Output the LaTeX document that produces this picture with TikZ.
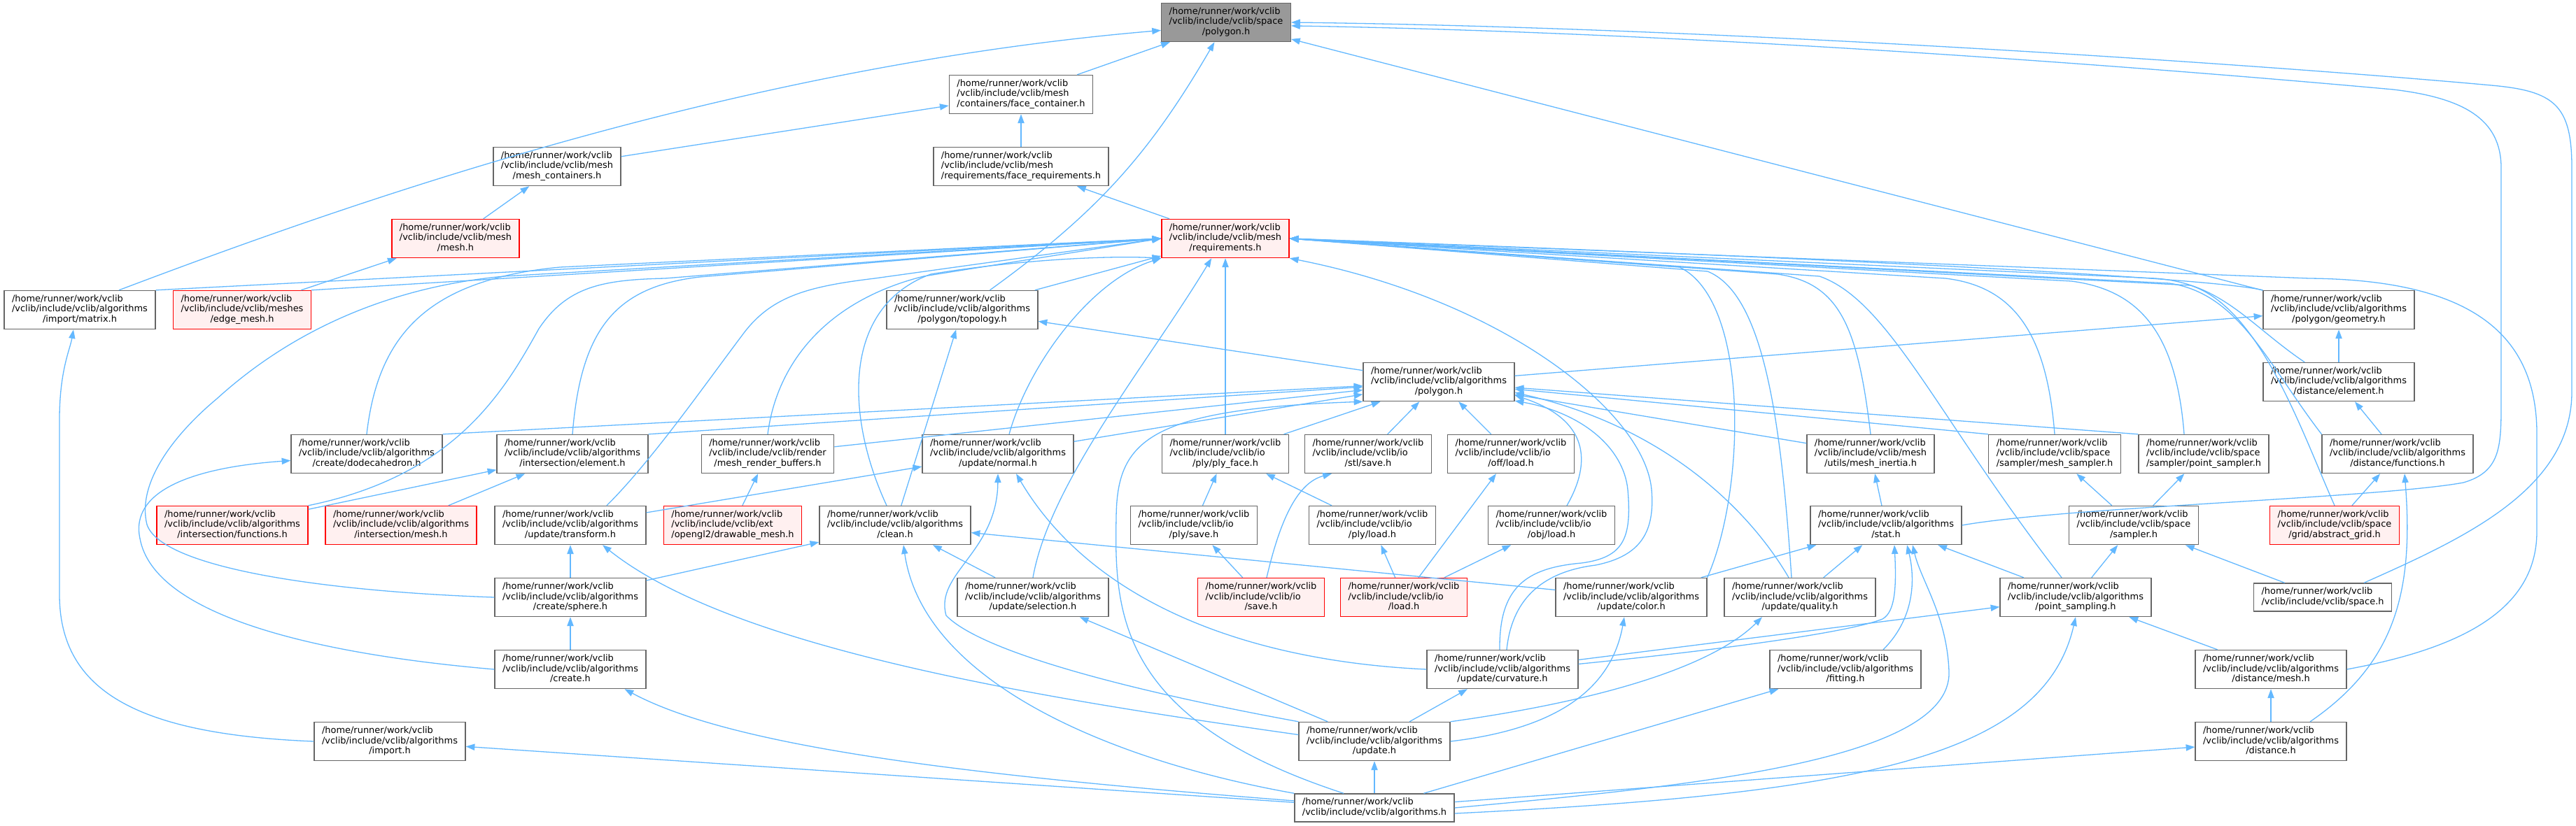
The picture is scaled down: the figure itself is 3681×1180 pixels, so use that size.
\documentclass[tikz,border=0pt]{standalone}
\usepackage{fontspec}
\setmainfont{DejaVu Sans}
\usetikzlibrary{arrows.meta}
\definecolor{depblue}{RGB}{99,184,255}
\definecolor{nodegray}{RGB}{102,102,102}
\definecolor{focusgray}{RGB}{153,153,153}
\definecolor{truncred}{RGB}{255,0,0}
\definecolor{truncfill}{RGB}{255,240,240}
\newcommand{\incpath}[2]{\begin{tabular}{@{}l@{}}/home/runner/work/vclib\\#1\\\multicolumn{1}{@{}c@{}}{#2}\end{tabular}}
\newcommand{\incpathtwo}[1]{\begin{tabular}{@{}l@{}}/home/runner/work/vclib\\#1\end{tabular}}

\begin{document}
\begin{tikzpicture}[x=0.5pt, y=0.5pt,
    file/.style={rectangle, draw=nodegray, fill=white, line width=0.65pt,
                 inner xsep=5.5pt, inner ysep=2.6pt, font=\fontsize{6.47}{7.45}\selectfont},
    focus/.style={file, fill=focusgray},
    trunc/.style={file, draw=truncred, fill=truncfill},
    dep/.style={-{Triangle[length=6.4pt, width=4.6pt]}, draw=depblue, line width=0.65pt}
]
\useasboundingbox (0,0) rectangle (3681,-1180);

\node[focus] (spoly) at (1752,-32) {\incpath{/vclib/include/vclib/space}{/polygon.h}};
\node[file] (facecont) at (1459,-135) {\incpath{/vclib/include/vclib/mesh}{/containers/face\_container.h}};
\node[file] (meshcont) at (796,-238) {\incpath{/vclib/include/vclib/mesh}{/mesh\_containers.h}};
\node[file] (facereq) at (1459,-238) {\incpath{/vclib/include/vclib/mesh}{/requirements/face\_requirements.h}};
\node[trunc] (mesh) at (651,-341) {\incpath{/vclib/include/vclib/mesh}{/mesh.h}};
\node[trunc] (req) at (1751,-341) {\incpath{/vclib/include/vclib/mesh}{/requirements.h}};
\node[file] (matrix) at (114,-443) {\incpath{/vclib/include/vclib/algorithms}{/import/matrix.h}};
\node[trunc] (edgemesh) at (346,-443) {\incpath{/vclib/include/vclib/meshes}{/edge\_mesh.h}};
\node[file] (topology) at (1375,-443) {\incpath{/vclib/include/vclib/algorithms}{/polygon/topology.h}};
\node[file] (geometry) at (3342,-443) {\incpath{/vclib/include/vclib/algorithms}{/polygon/geometry.h}};
\node[file] (apoly) at (2056,-546) {\incpath{/vclib/include/vclib/algorithms}{/polygon.h}};
\node[file] (delement) at (3342,-546) {\incpath{/vclib/include/vclib/algorithms}{/distance/element.h}};

\node[file] (dodeca) at (524,-649) {\incpath{/vclib/include/vclib/algorithms}{/create/dodecahedron.h}};
\node[file] (ielement) at (818,-649) {\incpath{/vclib/include/vclib/algorithms}{/intersection/element.h}};
\node[file] (mrbuf) at (1097,-649) {\incpath{/vclib/include/vclib/render}{/mesh\_render\_buffers.h}};
\node[file] (normal) at (1426,-649) {\incpath{/vclib/include/vclib/algorithms}{/update/normal.h}};
\node[file] (plyface) at (1751,-649) {\incpath{/vclib/include/vclib/io}{/ply/ply\_face.h}};
\node[file] (stlsave) at (1955,-649) {\incpath{/vclib/include/vclib/io}{/stl/save.h}};
\node[file] (offload) at (2159,-649) {\incpath{/vclib/include/vclib/io}{/off/load.h}};
\node[file] (inertia) at (2673,-649) {\incpath{/vclib/include/vclib/mesh}{/utils/mesh\_inertia.h}};
\node[file] (msampler) at (2936,-649) {\incpath{/vclib/include/vclib/space}{/sampler/mesh\_sampler.h}};
\node[file] (psampler) at (3149,-649) {\incpath{/vclib/include/vclib/space}{/sampler/point\_sampler.h}};
\node[file] (dfunc) at (3426,-649) {\incpath{/vclib/include/vclib/algorithms}{/distance/functions.h}};

\node[trunc] (ifunc) at (332,-751) {\incpath{/vclib/include/vclib/algorithms}{/intersection/functions.h}};
\node[trunc] (imesh) at (573,-751) {\incpath{/vclib/include/vclib/algorithms}{/intersection/mesh.h}};
\node[file] (transform) at (815,-751) {\incpath{/vclib/include/vclib/algorithms}{/update/transform.h}};
\node[trunc] (drawable) at (1047,-751) {\incpath{/vclib/include/vclib/ext}{/opengl2/drawable\_mesh.h}};
\node[file] (clean) at (1279,-751) {\incpath{/vclib/include/vclib/algorithms}{/clean.h}};
\node[file] (plysave) at (1706,-751) {\incpath{/vclib/include/vclib/io}{/ply/save.h}};
\node[file] (plyload) at (1961,-751) {\incpath{/vclib/include/vclib/io}{/ply/load.h}};
\node[file] (objload) at (2217,-751) {\incpath{/vclib/include/vclib/io}{/obj/load.h}};
\node[file] (stat) at (2695,-751) {\incpath{/vclib/include/vclib/algorithms}{/stat.h}};
\node[file] (sampler) at (3049,-751) {\incpath{/vclib/include/vclib/space}{/sampler.h}};
\node[trunc] (agrid) at (3336,-751) {\incpath{/vclib/include/vclib/space}{/grid/abstract\_grid.h}};

\node[file] (sphere) at (815,-854) {\incpath{/vclib/include/vclib/algorithms}{/create/sphere.h}};
\node[file] (selection) at (1476,-854) {\incpath{/vclib/include/vclib/algorithms}{/update/selection.h}};
\node[trunc] (iosave) at (1802,-854) {\incpath{/vclib/include/vclib/io}{/save.h}};
\node[trunc] (ioload) at (2006,-854) {\incpath{/vclib/include/vclib/io}{/load.h}};
\node[file] (color) at (2331,-854) {\incpath{/vclib/include/vclib/algorithms}{/update/color.h}};
\node[file] (quality) at (2572,-854) {\incpath{/vclib/include/vclib/algorithms}{/update/quality.h}};
\node[file] (psampling) at (2966,-854) {\incpath{/vclib/include/vclib/algorithms}{/point\_sampling.h}};
\node[file] (spaceh) at (3319,-854) {\incpathtwo{/vclib/include/vclib/space.h}};

\node[file] (create) at (815,-957) {\incpath{/vclib/include/vclib/algorithms}{/create.h}};
\node[file] (curvature) at (2147,-957) {\incpath{/vclib/include/vclib/algorithms}{/update/curvature.h}};
\node[file] (fitting) at (2637,-957) {\incpath{/vclib/include/vclib/algorithms}{/fitting.h}};
\node[file] (dmesh) at (3245,-957) {\incpath{/vclib/include/vclib/algorithms}{/distance/mesh.h}};
\node[file] (import) at (557,-1060) {\incpath{/vclib/include/vclib/algorithms}{/import.h}};
\node[file] (update) at (1964,-1060) {\incpath{/vclib/include/vclib/algorithms}{/update.h}};
\node[file] (distance) at (3245,-1060) {\incpath{/vclib/include/vclib/algorithms}{/distance.h}};
\node[file] (algs) at (1964,-1155) {\incpathtwo{/vclib/include/vclib/algorithms.h}};

% includes of space/polygon.h
\draw[dep] (facecont) -- (spoly);
\draw[dep] ([xshift=28pt]matrix.north) .. controls (500,-290) and (1050,-95) .. (spoly.187);
\draw[dep] (topology) to[bend right=12] (spoly);
\draw[dep] (geometry) -- (spoly);
\draw[dep] (stat.east) .. controls (2950,-725) and (3400,-712) .. (3520,-690) .. controls (3572,-675) and (3574,-640) .. (3574,-580) -- (3574,-240) .. controls (3574,-170) and (3520,-140) .. (3420,-128) .. controls (3200,-108) and (2500,-48) .. (spoly.-3);
\draw[dep] ([xshift=-20pt]spaceh.north east) .. controls (3520,-770) and (3675,-700) .. (3675,-560) -- (3675,-240) .. controls (3675,-150) and (3650,-130) .. (3560,-122) .. controls (3300,-98) and (2500,-40) .. (spoly.east);

\draw[dep] (meshcont) -- (facecont);
\draw[dep] (facereq) -- (facecont);
\draw[dep] (mesh) -- (meshcont);
\draw[dep] (req) -- (facereq);
\draw[dep] (edgemesh) -- (mesh);

% includes of mesh/requirements.h
\draw[dep] (edgemesh.north east) -- (req.west);
\draw[dep] (matrix.north east) -- (req.west);
\draw[dep] (topology) -- (req);
\draw[dep] (dodeca.north) .. controls (540,-480) and (610,-400) .. (800,-382) -- (req.west);
\draw[dep] (ielement.north) .. controls (830,-470) and (880,-410) .. (1000,-396) -- (req.west);
\draw[dep] (ifunc.north east) .. controls (650,-680) and (720,-560) .. (770,-470) .. controls (810,-410) and (860,-400) .. (950,-398) -- (req.west);
\draw[dep] ([xshift=26pt]transform.north) .. controls (930,-660) and (1000,-560) .. (1060,-480) .. controls (1100,-425) and (1150,-410) .. (1250,-398) -- (req.west);
\draw[dep] (mrbuf.north) .. controls (1110,-520) and (1180,-430) .. (1320,-395) -- (req.west);
\draw[dep] (sphere.west) .. controls (450,-845) and (230,-810) .. (210,-750) .. controls (195,-690) and (250,-620) .. (310,-570) .. controls (420,-470) and (560,-410) .. (720,-395) -- (req.west);
\draw[dep] ([xshift=-6pt]clean.north) .. controls (1210,-600) and (1200,-440) .. (1330,-392) .. controls (1450,-372) and (1580,-365) .. (req.south west);
\draw[dep] ([xshift=8pt]normal.north) .. controls (1470,-520) and (1560,-400) .. (req.south west);
\draw[dep] (selection.north) .. controls (1500,-690) and (1640,-520) .. (req.235);
\draw[dep] (plyface) -- (req);
\draw[dep] (geometry.north west) .. controls (3160,-398) and (2700,-372) .. (req.east);
\draw[dep] (delement.150) .. controls (3215,-465) and (3175,-405) .. (3080,-398) -- (req.east);
\draw[dep] (inertia.north) .. controls (2655,-470) and (2630,-405) .. (2540,-392) -- (req.east);
\draw[dep] (msampler.north) .. controls (2925,-480) and (2880,-410) .. (2780,-398) -- (req.east);
\draw[dep] ([xshift=-14pt]psampler.north) .. controls (3110,-480) and (3060,-415) .. (2960,-402) -- (req.east);
\draw[dep] (dfunc.north west) .. controls (3240,-520) and (3200,-420) .. (3100,-405) -- (req.east);
\draw[dep] (agrid.north) .. controls (3290,-620) and (3230,-440) .. (3130,-408) -- (req.east);
\draw[dep] ([xshift=-6pt]quality.north) .. controls (2545,-600) and (2520,-420) .. (2440,-388) -- (req.east);
\draw[dep] (color.north east) .. controls (2495,-700) and (2500,-430) .. (2400,-382) -- (req.east);
\draw[dep] ([xshift=-10pt]psampling.north) .. controls (2770,-600) and (2700,-430) .. (2600,-395) -- (req.east);
\draw[dep] (dmesh.east) .. controls (3500,-930) and (3625,-880) .. (3625,-760) -- (3625,-620) .. controls (3625,-470) and (3520,-400) .. (3300,-398) -- (req.east);
\draw[dep] ([xshift=3pt]curvature.north) .. controls (2160,-860) and (2200,-818) .. (2280,-808) .. controls (2345,-795) and (2365,-760) .. (2360,-700) .. controls (2350,-590) and (2150,-430) .. (req.south east);

% includes of algorithms/polygon.h
\draw[dep] (apoly) -- (topology);
\draw[dep] (apoly) -- (geometry);
\draw[dep] (delement) -- (geometry);
\draw[dep] (dodeca.north east) -- (apoly);
\draw[dep] (ielement.north east) -- (apoly);
\draw[dep] (mrbuf) -- (apoly);
\draw[dep] (normal) -- (apoly);
\draw[dep] (plyface) -- (apoly);
\draw[dep] (stlsave) -- (apoly);
\draw[dep] (offload) -- (apoly);
\draw[dep] ([xshift=11pt]objload.north) .. controls (2275,-660) and (2270,-600) .. (apoly.-10);
\draw[dep] (inertia) -- (apoly);
\draw[dep] (msampler.north west) -- (apoly);
\draw[dep] (psampler.north west) -- (apoly);
\draw[dep] ([xshift=-8pt]quality.north) .. controls (2500,-730) and (2380,-610) .. (apoly.-8);
\draw[dep] ([xshift=-2pt]curvature.north) .. controls (2142,-840) and (2180,-812) .. (2260,-805) .. controls (2320,-797) and (2332,-770) .. (2326,-700) .. controls (2320,-640) and (2260,-590) .. (apoly.-14);
\draw[dep] ([xshift=-22pt]algs.north) .. controls (1600,-1030) and (1592,-880) .. (1595,-740) .. controls (1596,-630) and (1640,-585) .. (apoly.south west);

\draw[dep] (ifunc) -- (ielement);
\draw[dep] (imesh) -- (ielement);
\draw[dep] (transform) -- (normal);
\draw[dep] (drawable) -- (mrbuf);
\draw[dep] (clean) -- (topology);
\draw[dep] (plysave) -- (plyface);
\draw[dep] (plyload) -- (plyface);
\draw[dep] (stat) -- (inertia);
\draw[dep] (sampler) -- (msampler);
\draw[dep] (sampler) -- (psampler);
\draw[dep] (agrid) -- (dfunc);
\draw[dep] (dfunc) -- (delement);

\draw[dep] (sphere) -- (transform);
\draw[dep] (sphere) -- (clean);
\draw[dep] (selection) -- (clean);
\draw[dep] (iosave) -- (plysave);
\draw[dep] ([xshift=4pt]iosave.north) .. controls (1830,-740) and (1855,-690) .. ([xshift=-26pt]stlsave.south);
\draw[dep] (ioload) -- (plyload);
\draw[dep] (ioload) -- (offload);
\draw[dep] (ioload) -- (objload);
\draw[dep] (color) -- (clean);
\draw[dep] (color) -- (stat);
\draw[dep] (quality) -- (stat);
\draw[dep] (psampling) -- (stat);
\draw[dep] (psampling) -- (sampler);
\draw[dep] (spaceh) -- (sampler);

\draw[dep] (create) -- (sphere);
\draw[dep] (create.west) .. controls (450,-935) and (220,-880) .. (200,-770) .. controls (185,-700) and (280,-668) .. (dodeca.185);
\draw[dep] (curvature.west) .. controls (1780,-945) and (1560,-860) .. ([xshift=13pt]normal.south);
\draw[dep] (curvature) -- (psampling);
\draw[dep] (curvature.4) .. controls (2450,-930) and (2640,-905) .. (2690,-885) .. controls (2708,-875) and (2710,-840) .. ([xshift=6pt]stat.south);
\draw[dep] ([xshift=27pt]fitting.north) .. controls (2740,-880) and (2735,-820) .. ([xshift=15pt]stat.south);
\draw[dep] (dmesh) -- (psampling);

\draw[dep] (import.west) .. controls (200,-1050) and (85,-990) .. (85,-850) -- (85,-600) .. controls (85,-530) and (100,-500) .. ([xshift=-4.5pt]matrix.south);
\draw[dep] (update.175) .. controls (1500,-1000) and (1050,-930) .. ([xshift=23pt]transform.south);
\draw[dep] (update.north west) .. controls (1600,-985) and (1400,-930) .. (1352,-880) .. controls (1335,-820) and (1425,-790) .. (normal.south);
\draw[dep] (update) -- (selection);
\draw[dep] (update) -- (curvature);
\draw[dep] (update.east) .. controls (2200,-1045) and (2300,-1000) .. ([xshift=-5pt]color.south);
\draw[dep] (update.north east) .. controls (2300,-1000) and (2450,-950) .. ([xshift=-27pt]quality.south);
\draw[dep] (distance) -- (dmesh);
\draw[dep] ([xshift=28pt]distance.north) .. controls (3420,-950) and (3450,-850) .. ([xshift=5pt]dfunc.south);

% algorithms.h
\draw[dep] (algs) -- (import);
\draw[dep] (algs.175) .. controls (1400,-1110) and (1050,-1070) .. (create.-20);
\draw[dep] (algs.north west) .. controls (1600,-1090) and (1320,-980) .. ([xshift=6pt]clean.south);
\draw[dep] (algs) -- (update);
\draw[dep] (algs) -- (fitting);
\draw[dep] (algs.east) .. controls (2400,-1125) and (2790,-1090) .. (2785,-960) .. controls (2782,-880) and (2745,-830) .. ([xshift=19pt]stat.south);
\draw[dep] (algs.-4) .. controls (2650,-1135) and (2920,-1085) .. (psampling.south);
\draw[dep] (algs) -- (distance);

\end{tikzpicture}
\end{document}
